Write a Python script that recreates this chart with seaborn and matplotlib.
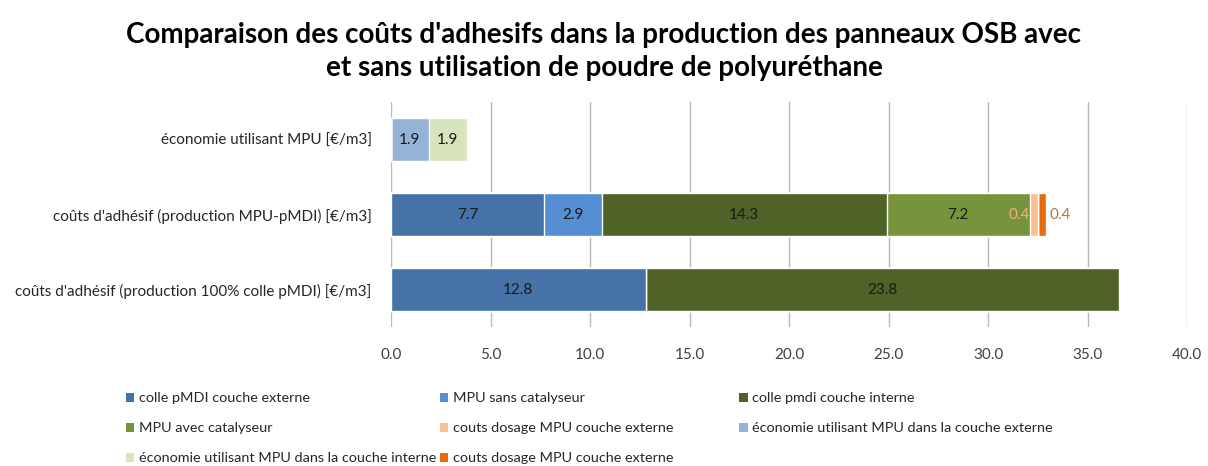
import numpy as np
import pandas as pd
import matplotlib
matplotlib.use("Agg")
import matplotlib.pyplot as plt
from matplotlib.patches import Patch
import seaborn as sns

# Rows of the chart (top to bottom)
categories = [
    "économie utilisant MPU [€/m3]",
    "coûts d'adhésif (production MPU-pMDI) [€/m3]",
    "coûts d'adhésif (production 100% colle pMDI) [€/m3]",
]

# Stacked series, in stacking order, values per row [€/m3]
series_names = [
    "colle pMDI couche externe",
    "MPU sans catalyseur",
    "colle pmdi couche interne",
    "MPU avec catalyseur",
    "couts dosage MPU couche externe",
    "économie utilisant MPU dans la couche externe",
    "économie utilisant MPU dans la couche interne",
    "couts dosage MPU couche externe ",
]
colle_pmdi_externe = [0.0, 7.7, 12.8]
mpu_sans_catalyseur = [0.0, 2.9, 0.0]
colle_pmdi_interne = [0.0, 14.3, 23.8]
mpu_avec_catalyseur = [0.0, 7.2, 0.0]
dosage_mpu_1 = [0.0, 0.4, 0.0]
economie_externe = [1.9, 0.0, 0.0]
economie_interne = [1.9, 0.0, 0.0]
dosage_mpu_2 = [0.0, 0.4, 0.0]

series_values = [
    colle_pmdi_externe, mpu_sans_catalyseur, colle_pmdi_interne,
    mpu_avec_catalyseur, dosage_mpu_1, economie_externe,
    economie_interne, dosage_mpu_2,
]
colors = ["#4672A8", "#568ED4", "#4F6228", "#77933C",
          "#FAC090", "#95B3D7", "#D7E4BD", "#E46C0A"]

x_ticks = [0, 5, 10, 15, 20, 25, 30, 35, 40]

sns.set_theme(style="white")
plt.rcParams["font.family"] = ["Lato", "DejaVu Sans"]

fig = plt.figure(figsize=(12.08, 4.66), dpi=100)
ax = fig.add_axes([0.3237, 0.298, 0.659, 0.483])

vals = np.array(series_values)
cum = np.cumsum(vals, axis=0)

# Stacked bars: draw cumulative totals from the outermost segment inwards
for i in range(len(series_names) - 1, -1, -1):
    df = pd.DataFrame({"cat": categories, "val": cum[i]})
    sns.barplot(data=df, x="val", y="cat", orient="h", color=colors[i],
                saturation=1, width=0.58, ax=ax, zorder=3)

# Segment value labels
label_colors = ["#1a1a1a", "#1a1a1a", "#1a1a1a", "#1a1a1a",
                "#F2B27A", "#1a1a1a", "#1a1a1a", "#B8733C"]
label_shift = [0, 0, 0, 0, -0.75, 0, 0, 0.9]
for i in range(len(series_names)):
    for r in range(len(categories)):
        v = vals[i, r]
        if v <= 0:
            continue
        start = cum[i, r] - v
        xc = start + v / 2 + label_shift[i]
        ax.text(xc, r, f"{v:.1f}", ha="center", va="center",
                fontsize=11, color=label_colors[i], zorder=5)

ax.set_xlim(0, 40)
ax.set_xticks(x_ticks)
ax.set_xticklabels([f"{t:.1f}" for t in x_ticks], fontsize=11, color="#404040")
ax.tick_params(axis="x", pad=15, length=0)
ax.tick_params(axis="y", pad=14, length=0, labelsize=11, labelcolor="#262626")
ax.set_xlabel("")
ax.set_ylabel("")
ax.xaxis.grid(True, color="#B8B8B8", linewidth=1, zorder=0)
ax.set_axisbelow(True)
for s in ax.spines.values():
    s.set_visible(False)

fig.suptitle("Comparaison des coûts d'adhesifs dans la production des panneaux OSB avec\n"
             "et sans utilisation de poudre de polyuréthane",
             fontsize=20, fontweight="bold", y=0.952, color="#000000",
             linespacing=1.3)

# Legend laid out row by row in three fixed columns
handles = [Patch(facecolor=c, edgecolor="none") for c in colors]
col_x = [0.104, 0.364, 0.612]
for c in range(3):
    idx = list(range(c, len(series_names), 3))
    fig.legend([handles[k] for k in idx], [series_names[k].strip() for k in idx],
               loc="upper left", bbox_to_anchor=(col_x[c], 0.158),
               frameon=False, fontsize=10.4, handlelength=0.6, handleheight=0.6,
               handletextpad=0.3, labelspacing=1.25, borderaxespad=0,
               borderpad=0, labelcolor="#262626")

fig.savefig("out.png", dpi=100, facecolor="white")
